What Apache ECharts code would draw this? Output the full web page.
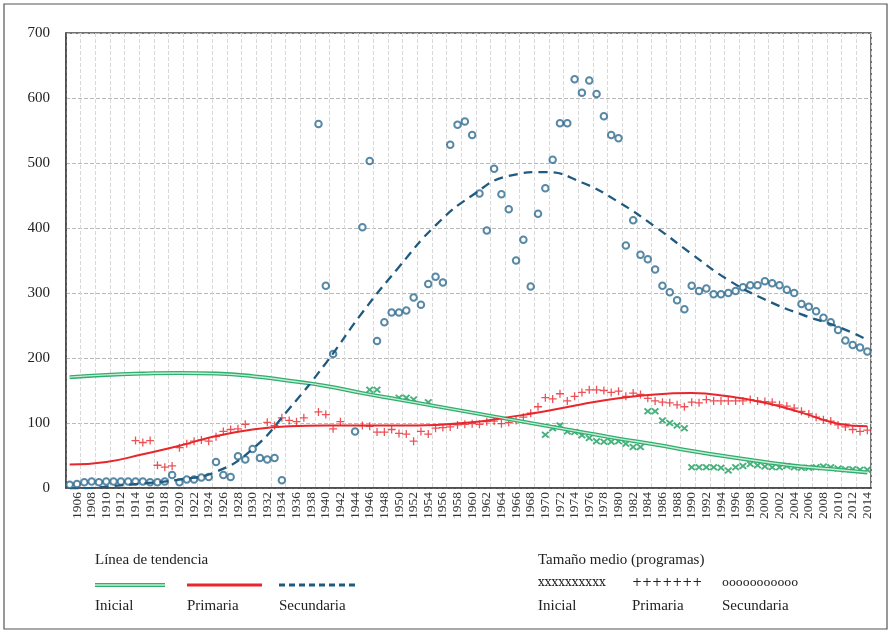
<!DOCTYPE html>
<html>
<head>
<meta charset="utf-8">
<script src="https://cdn.jsdelivr.net/npm/echarts@6/dist/echarts.min.js"></script>
<style>
  html, body { margin: 0; padding: 0; background: #fff; }
  #chart { width: 892px; height: 632px; }
</style>
</head>
<body>
<div id="chart"></div>
<script>
// años 1905 - 2014 (una categoría por año)
const years = [];
for (let y = 1905; y <= 2014; y++) years.push(String(y));

const yTicks = [0, 100, 200, 300, 400, 500, 600, 700];

// Tamaño medio (programas), índice 0 = 1905
const secundaria = [
  5, 6, 9, 10, 9, 10, 10, 10, 10, 10,
  10, 9, 9, 10, 20, 9, 13, 13, 16, 17,
  40, 20, 17, 49, 44, 60, 46, 44, 46, 12,
  null, null, null, null, 560, 311, 206, null, null, 87,
  401, 503, 226, 255, 270, 270, 273, 293, 282, 314,
  325, 316, 528, 559, 564, 543, 453, 396, 491, 452,
  429, 350, 382, 310, 422, 461, 505, 561, 561, 629,
  608, 627, 606, 572, 543, 538, 373, 412, 359, 352,
  336, 311, 301, 289, 275, 311, 303, 307, 298, 298,
  300, 303, 309, 312, 312, 318, 315, 312, 305, 300,
  283, 279, 272, 262, 255, 243, 227, 220, 216, 210
];

const primaria = [
  null, null, null, null, null, null, null, null, null, 73,
  70, 73, 35, 32, 34, 62, 68, 72, 74, 72,
  79, 87, 90, 91, 98, null, null, 101, 96, 108,
  104, 102, 108, null, 117, 113, 91, 102, null, null,
  96, 95, 86, 86, 90, 84, 83, 72, 87, 83,
  92, 93, 94, 97, 98, 99, 98, 102, 103, 99,
  101, 104, 109, 115, 125, 139, 137, 145, 134, 141,
  147, 151, 151, 150, 147, 149, 141, 146, 144, 138,
  134, 132, 131, 128, 125, 132, 131, 136, 134, 134,
  134, 134, 134, 136, 134, 133, 132, 128, 126, 123,
  118, 114, 109, 105, 103, 97, 94, 90, 87, 89
];

const inicial = [
  null, null, null, null, null, null, null, null, null, null,
  null, null, null, null, null, null, null, null, null, null,
  null, null, null, null, null, null, null, null, null, null,
  null, null, null, null, null, null, null, null, null, null,
  null, 151, 151, null, null, 139, 139, 136, null, 132,
  null, null, null, null, null, null, null, null, null, null,
  null, null, null, null, null, 82, 92, 96, 87, 86,
  81, 77, 72, 71, 71, 72, 68, 63, 63, 118,
  118, 104, 100, 96, 92, 32, 32, 32, 32, 31,
  27, 32, 34, 37, 35, 33, 32, 32, 34, 32,
  31, 31, 32, 33, 32, 30, 29, 29, 28, 28
];

// Línea de tendencia (leída cada 5 años)
const trendYears = [1905, 1910, 1915, 1920, 1925, 1930, 1935, 1940, 1945, 1950, 1955,
  1960, 1965, 1970, 1975, 1980, 1985, 1990, 1995, 2000, 2005, 2010, 2014];
const inicialTrend = [170.5, 174, 176, 177, 176, 172, 165, 157, 146, 136, 126,
  116, 106, 96, 86, 76, 67, 57, 48, 40, 33, 28, 24];
const primariaTrend = [36, 40, 52, 65, 80, 90, 95, 96, 96, 96, 97,
  101, 109, 118, 129, 138, 144, 146, 141, 131, 116, 99, 95];
const secundariaTrend = [-3, 2, 7, 13, 25, 60, 122, 192, 270, 340, 404,
  450, 480, 486, 470, 440, 402, 360, 320, 290, 267, 248, 228];

const SERIF = '"Liberation Serif", "DejaVu Serif", serif';
const C_SEC = '#2d6a8e';
const C_PRI = '#e8262b';
const C_INI = '#1a9e5c';

const plusPath = 'path://M4.2,0H5.8V4.2H10V5.8H5.8V10H4.2V5.8H0V4.2H4.2Z';
const crossPath = 'path://M0,1.8L1.8,0L5,3.2L8.2,0L10,1.8L6.8,5L10,8.2L8.2,10L5,6.8L1.8,10L0,8.2L3.2,5Z';

function pairs(xs, vals) {
  return xs.map((y, i) => [String(y), vals[i]]);
}

const chart = echarts.init(document.getElementById('chart'));

function txt(text, x, y, size, family) {
  return {
    type: 'text', left: x, top: y - size / 2 - 1,
    style: { text: text, font: size + 'px ' + (family || SERIF), fill: '#222' }
  };
}

const option = {
  animation: false,
  backgroundColor: '#fff',
  grid: {
    left: 66, right: 21, top: 33, bottom: 144,
    show: true, borderColor: '#444', borderWidth: 1.5
  },
  xAxis: {
    type: 'category',
    data: years,
    boundaryGap: true,
    axisLine: { lineStyle: { color: '#444', width: 1.5 } },
    axisTick: { show: false },
    axisLabel: {
      interval: (i) => i % 2 === 1,
      rotate: 90,
      margin: 4,
      fontFamily: SERIF,
      fontSize: 13.5,
      color: '#333'
    },
    splitLine: {
      show: true,
      interval: (i) => i % 2 === 0,
      lineStyle: { color: '#d9d9d9', type: 'dashed', width: 1 }
    }
  },
  yAxis: {
    type: 'value',
    min: yTicks[0],
    max: yTicks[yTicks.length - 1],
    interval: 100,
    axisLine: { show: true, lineStyle: { color: '#444', width: 1.5 } },
    axisTick: { show: false },
    axisLabel: { fontFamily: SERIF, fontSize: 15, color: '#222', margin: 16 },
    splitLine: { lineStyle: { color: '#b8b8b8', type: 'dashed', width: 1 } }
  },
  series: [
    {
      name: 'Secundaria', type: 'scatter', data: secundaria,
      symbol: 'emptyCircle', symbolSize: 6.5,
      itemStyle: { color: C_SEC, borderWidth: 1.1 }
    },
    {
      name: 'Primaria', type: 'scatter', data: primaria,
      symbol: plusPath, symbolSize: 8,
      itemStyle: { color: C_PRI }
    },
    {
      name: 'Inicial', type: 'scatter', data: inicial,
      symbol: crossPath, symbolSize: [8, 7],
      itemStyle: { color: C_INI }
    },
    // tendencia inicial: línea doble
    {
      name: 'Inicial tendencia', type: 'line', data: pairs(trendYears, inicialTrend),
      smooth: true, showSymbol: false, z: 3,
      lineStyle: { color: '#2fae6e', width: 4 }
    },
    {
      name: 'Inicial tendencia2', type: 'line', data: pairs(trendYears, inicialTrend),
      smooth: true, showSymbol: false, z: 4,
      lineStyle: { color: '#c6ecd6', width: 1.4 }
    },
    {
      name: 'Primaria tendencia', type: 'line', data: pairs(trendYears, primariaTrend),
      smooth: true, showSymbol: false, z: 3,
      lineStyle: { color: C_PRI, width: 2 }
    },
    {
      name: 'Secundaria tendencia', type: 'line', data: pairs(trendYears, secundariaTrend),
      smooth: true, showSymbol: false, z: 3, clip: true,
      lineStyle: { color: '#1f5a80', width: 2.3, type: [9, 6] }
    }
  ],
  graphic: [
    // marco exterior
    {
      type: 'rect', shape: { x: 4, y: 4, width: 883, height: 625 },
      style: { fill: 'none', stroke: '#555', lineWidth: 1.2 }, silent: true
    },
    txt('Línea de tendencia', 95, 561, 15),
    {
      type: 'line', shape: { x1: 95, y1: 585, x2: 165, y2: 585 },
      style: { stroke: '#2fae6e', lineWidth: 4 }
    },
    {
      type: 'line', shape: { x1: 95, y1: 585, x2: 165, y2: 585 },
      style: { stroke: '#c6ecd6', lineWidth: 1.4 }
    },
    {
      type: 'line', shape: { x1: 187, y1: 585, x2: 262, y2: 585 },
      style: { stroke: C_PRI, lineWidth: 3 }
    },
    {
      type: 'line', shape: { x1: 279, y1: 585, x2: 355, y2: 585 },
      style: { stroke: '#1f5a80', lineWidth: 3, lineDash: [6, 4] }
    },
    txt('Inicial', 95, 607, 15),
    txt('Primaria', 187, 607, 15),
    txt('Secundaria', 279, 607, 15),

    txt('Tamaño medio (programas)', 538, 561, 15),
    txt('xxxxxxxxxx', 538, 584, 12, '"DejaVu Serif", serif'),
    txt('+++++++', 632, 584, 12, '"DejaVu Serif", serif'),
    txt('ooooooooooo', 722, 584, 11.5, '"DejaVu Serif", serif'),
    txt('Inicial', 538, 607, 15),
    txt('Primaria', 632, 607, 15),
    txt('Secundaria', 722, 607, 15)
  ]
};

chart.setOption(option);
</script>
</body>
</html>
